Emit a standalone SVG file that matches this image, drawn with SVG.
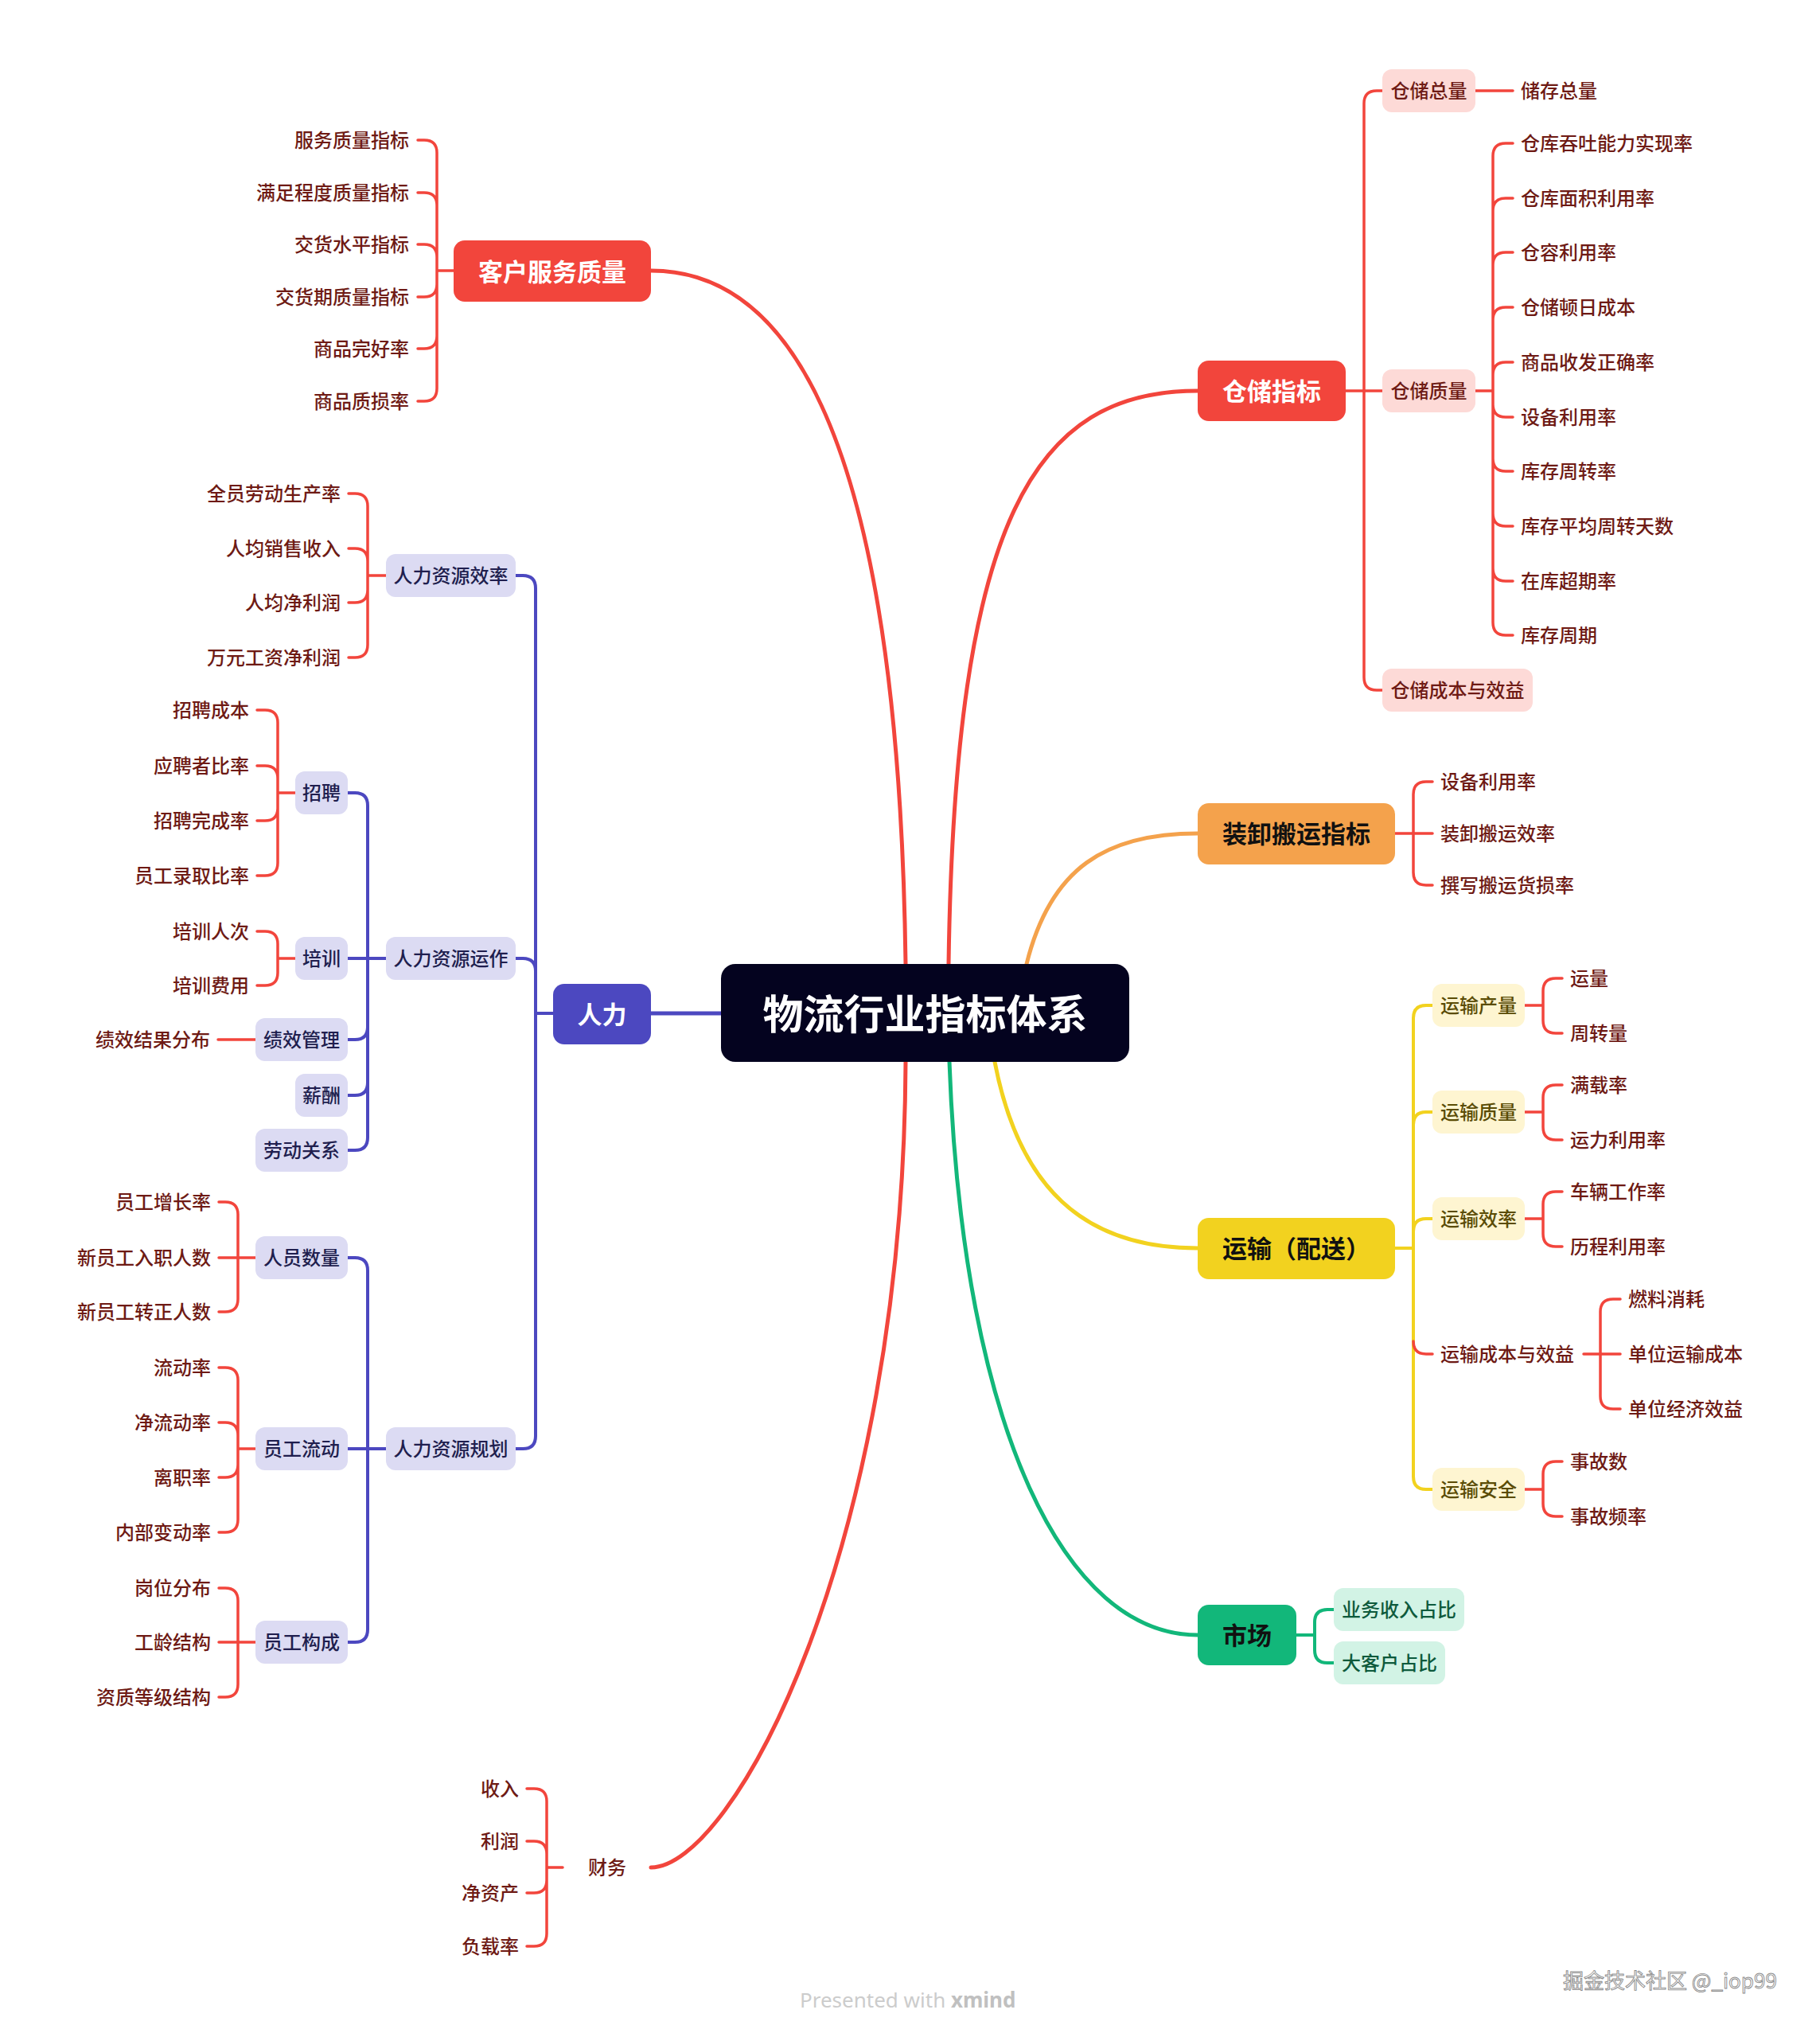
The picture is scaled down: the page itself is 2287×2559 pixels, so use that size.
<svg xmlns="http://www.w3.org/2000/svg" width="2287" height="2559" viewBox="0 0 2287 2559">
<style>
text{font-family:"Noto Sans CJK SC","Noto Sans",sans-serif;dominant-baseline:central}
.c{fill:none;stroke-linecap:round;stroke-linejoin:round}
.r{stroke:#F2453C;stroke-width:3.5}
.ry{stroke:#F2D21F;stroke-width:4}
.rg{stroke:#12B77A;stroke-width:4}
.rp{stroke:#4C48C0;stroke-width:4}
.main{stroke-width:5}
.lf{font-size:24px;fill:#6E1A14;font-weight:500}
.e{text-anchor:end}
.m{text-anchor:middle}
.n2{font-size:31px;font-weight:bold;text-anchor:middle}
.n3{font-size:24px;text-anchor:middle;font-weight:500}
.pk{fill:#FDDAD7}
.yl{fill:#FEF5D1}
.gl{fill:#D2F3E5}
.lv{fill:#DCDBF3}
.tpk{fill:#6E1A14}
.tyl{fill:#5A4C05}
.tgl{fill:#0E5A3C}
.tlv{fill:#201E4E}
</style>
<rect width="2287" height="2559" fill="#ffffff"/>
<g id="connectors">
<path class="c r main" d="M1138 1211 C1130 620 1020 340 818 340"/>
<path class="c r main" d="M1192 1211 C1200 650 1300 491 1505 491"/>
<path class="c main" stroke="#F4A24C" d="M1290 1211 C1320 1090 1390 1047 1505 1047"/>
<path class="c ry main" d="M1250 1334 C1280 1490 1360 1568 1505 1568"/>
<path class="c rg main" d="M1193 1334 C1210 1800 1340 2054 1505 2054"/>
<path class="c r main" d="M1138 1334 C1135 1950 920 2346 818 2346"/>
<path class="c rp main" d="M818 1273 H906"/>
<path class="c r" d="M570 340 H549 M549 340 V192 Q549 176 533 176 H525 M549 340 V258 Q549 242 533 242 H525 M549 340 V323 Q549 307 533 307 H525 M549 340 V357 Q549 373 533 373 H525 M549 340 V422 Q549 438 533 438 H525 M549 340 V488 Q549 504 533 504 H525"/>
<path class="c r" d="M1691 491 H1714 M1714 491 V130 Q1714 114 1730 114 H1737 M1714 491 H1737 M1714 491 V851 Q1714 867 1730 867 H1737 M1854 114 H1901"/>
<path class="c r" d="M1854 491 H1876 M1876 491 V196 Q1876 180 1892 180 H1901 M1876 491 V265 Q1876 249 1892 249 H1901 M1876 491 V333 Q1876 317 1892 317 H1901 M1876 491 V402 Q1876 386 1892 386 H1901 M1876 491 V471 Q1876 455 1892 455 H1901 M1876 491 V508 Q1876 524 1892 524 H1901 M1876 491 V576 Q1876 592 1892 592 H1901 M1876 491 V645 Q1876 661 1892 661 H1901 M1876 491 V714 Q1876 730 1892 730 H1901 M1876 491 V782 Q1876 798 1892 798 H1901"/>
<path class="c r" d="M1753 1047 H1776 M1776 1047 V998 Q1776 982 1792 982 H1800 M1776 1047 H1800 M1776 1047 V1096 Q1776 1112 1792 1112 H1800"/>
<path class="c ry" d="M1753 1568 H1776 M1776 1568 V1279 Q1776 1263 1792 1263 H1800 M1776 1568 V1413 Q1776 1397 1792 1397 H1800 M1776 1568 V1547 Q1776 1531 1792 1531 H1800 M1776 1568 V1855 Q1776 1871 1792 1871 H1800"/>
<path class="c r" d="M1776 1685 Q1776 1701 1792 1701 H1800"/>
<path class="c r" d="M1916 1263 H1939 M1939 1263 V1245 Q1939 1229 1955 1229 H1963 M1939 1263 V1282 Q1939 1298 1955 1298 H1963"/>
<path class="c r" d="M1916 1397 H1939 M1939 1397 V1379 Q1939 1363 1955 1363 H1963 M1939 1397 V1416 Q1939 1432 1955 1432 H1963"/>
<path class="c r" d="M1916 1531 H1939 M1939 1531 V1513 Q1939 1497 1955 1497 H1963 M1939 1531 V1550 Q1939 1566 1955 1566 H1963"/>
<path class="c r" d="M1916 1871 H1939 M1939 1871 V1852 Q1939 1836 1955 1836 H1963 M1939 1871 V1889 Q1939 1905 1955 1905 H1963"/>
<path class="c r" d="M1990 1701 H2011 M2011 1701 V1648 Q2011 1632 2027 1632 H2036 M2011 1701 H2036 M2011 1701 V1754 Q2011 1770 2027 1770 H2036"/>
<path class="c rg" d="M1629 2054 H1652 M1652 2054 V2038 Q1652 2022 1668 2022 H1676 M1652 2054 V2073 Q1652 2089 1668 2089 H1676"/>
<path class="c rp" d="M695 1273 H673 M673 1273 V739 Q673 723 657 723 H648 M673 1273 V1220 Q673 1204 657 1204 H648 M673 1273 V1804 Q673 1820 657 1820 H648"/>
<path class="c rp" d="M485 1204 H462 M462 1204 V1012 Q462 996 446 996 H437 M462 1204 H437 M462 1204 V1290 Q462 1306 446 1306 H437 M462 1204 V1360 Q462 1376 446 1376 H437 M462 1204 V1429 Q462 1445 446 1445 H437"/>
<path class="c rp" d="M485 1820 H462 M462 1820 V1596 Q462 1580 446 1580 H437 M462 1820 H437 M462 1820 V2047 Q462 2063 446 2063 H437"/>
<path class="c r" d="M485 723 H462 M462 723 V636 Q462 620 446 620 H438 M462 723 V705 Q462 689 446 689 H438 M462 723 V741 Q462 757 446 757 H438 M462 723 V810 Q462 826 446 826 H438"/>
<path class="c r" d="M371 996 H349 M349 996 V908 Q349 892 333 892 H323 M349 996 V978 Q349 962 333 962 H323 M349 996 V1015 Q349 1031 333 1031 H323 M349 996 V1084 Q349 1100 333 1100 H323"/>
<path class="c r" d="M371 1204 H349 M349 1204 V1186 Q349 1170 333 1170 H323 M349 1204 V1222 Q349 1238 333 1238 H323"/>
<path class="c r" d="M321 1306 H274"/>
<path class="c r" d="M321 1580 H299 M299 1580 V1526 Q299 1510 283 1510 H275 M299 1580 H275 M299 1580 V1632 Q299 1648 283 1648 H275"/>
<path class="c r" d="M321 1820 H299 M299 1820 V1734 Q299 1718 283 1718 H275 M299 1820 V1803 Q299 1787 283 1787 H275 M299 1820 V1840 Q299 1856 283 1856 H275 M299 1820 V1909 Q299 1925 283 1925 H275"/>
<path class="c r" d="M321 2063 H299 M299 2063 V2011 Q299 1995 283 1995 H275 M299 2063 H275 M299 2063 V2116 Q299 2132 283 2132 H275"/>
<path class="c r" d="M707 2346 H687 M687 2346 V2263 Q687 2247 671 2247 H662 M687 2346 V2329 Q687 2313 671 2313 H662 M687 2346 V2362 Q687 2378 671 2378 H662 M687 2346 V2429 Q687 2445 671 2445 H662"/>
</g>

<g id="central">
<rect x="906" y="1211" width="513" height="123" rx="18" fill="#04031F"/>
<text x="1162.5" y="1271" class="m" font-size="51" font-weight="bold" fill="#ffffff">物流行业指标体系</text>
</g>

<g id="kehu">
<rect x="570" y="302" width="248" height="77" rx="14" fill="#F2453C"/>
<text x="694" y="339" class="n2" fill="#ffffff">客户服务质量</text>
</g>
<g id="kehu-leaves">
<text x="514" y="174" class="lf e">服务质量指标</text>
<text x="514" y="240" class="lf e">满足程度质量指标</text>
<text x="514" y="305" class="lf e">交货水平指标</text>
<text x="514" y="371" class="lf e">交货期质量指标</text>
<text x="514" y="436" class="lf e">商品完好率</text>
<text x="514" y="502" class="lf e">商品质损率</text>
</g>

<g id="cangchu">
<rect x="1505" y="453" width="186" height="76" rx="14" fill="#F2453C"/>
<text x="1598" y="489" class="n2" fill="#ffffff">仓储指标</text>
</g>
<g id="cc-zongliang">
<rect x="1737" y="87" width="117" height="54" rx="12" class="pk"/>
<text x="1795.5" y="112" class="n3 tpk">仓储总量</text>
<text x="1911" y="112" class="lf">储存总量</text>
</g>
<g id="cc-zhiliang">
<rect x="1737" y="464" width="117" height="54" rx="12" class="pk"/>
<text x="1795.5" y="489" class="n3 tpk">仓储质量</text>
<text x="1911" y="178" class="lf">仓库吞吐能力实现率</text>
<text x="1911" y="247" class="lf">仓库面积利用率</text>
<text x="1911" y="315" class="lf">仓容利用率</text>
<text x="1911" y="384" class="lf">仓储顿日成本</text>
<text x="1911" y="453" class="lf">商品收发正确率</text>
<text x="1911" y="522" class="lf">设备利用率</text>
<text x="1911" y="590" class="lf">库存周转率</text>
<text x="1911" y="659" class="lf">库存平均周转天数</text>
<text x="1911" y="728" class="lf">在库超期率</text>
<text x="1911" y="796" class="lf">库存周期</text>
</g>
<g id="cc-chengben">
<rect x="1737" y="840" width="189" height="54" rx="12" class="pk"/>
<text x="1831.5" y="865" class="n3 tpk">仓储成本与效益</text>
</g>

<g id="zhuangxie">
<rect x="1505" y="1009" width="248" height="77" rx="14" fill="#F4A24C"/>
<text x="1629" y="1045" class="n2" fill="#111111">装卸搬运指标</text>
<text x="1810" y="980" class="lf">设备利用率</text>
<text x="1810" y="1045" class="lf">装卸搬运效率</text>
<text x="1810" y="1110" class="lf">撰写搬运货损率</text>
</g>

<g id="yunshu">
<rect x="1505" y="1530" width="248" height="77" rx="14" fill="#F2D21F"/>
<text x="1629" y="1566" class="n2" fill="#111111">运输（配送）</text>
</g>
<g id="ys-chanliang">
<rect x="1800" y="1236" width="116" height="54" rx="12" class="yl"/>
<text x="1858" y="1261" class="n3 tyl">运输产量</text>
<text x="1973" y="1227" class="lf">运量</text>
<text x="1973" y="1296" class="lf">周转量</text>
</g>
<g id="ys-zhiliang">
<rect x="1800" y="1370" width="116" height="54" rx="12" class="yl"/>
<text x="1858" y="1395" class="n3 tyl">运输质量</text>
<text x="1973" y="1361" class="lf">满载率</text>
<text x="1973" y="1430" class="lf">运力利用率</text>
</g>
<g id="ys-xiaolv">
<rect x="1800" y="1504" width="116" height="54" rx="12" class="yl"/>
<text x="1858" y="1529" class="n3 tyl">运输效率</text>
<text x="1973" y="1495" class="lf">车辆工作率</text>
<text x="1973" y="1564" class="lf">历程利用率</text>
</g>
<g id="ys-chengben">
<text x="1810" y="1699" class="lf">运输成本与效益</text>
<text x="2046" y="1630" class="lf">燃料消耗</text>
<text x="2046" y="1699" class="lf">单位运输成本</text>
<text x="2046" y="1768" class="lf">单位经济效益</text>
</g>
<g id="ys-anquan">
<rect x="1800" y="1844" width="116" height="54" rx="12" class="yl"/>
<text x="1858" y="1869" class="n3 tyl">运输安全</text>
<text x="1973" y="1834" class="lf">事故数</text>
<text x="1973" y="1903" class="lf">事故频率</text>
</g>

<g id="shichang">
<rect x="1505" y="2016" width="124" height="76" rx="14" fill="#12B77A"/>
<text x="1567" y="2052" class="n2" fill="#111111">市场</text>
<rect x="1676" y="1995" width="164" height="54" rx="12" class="gl"/>
<text x="1758" y="2020" class="n3 tgl">业务收入占比</text>
<rect x="1676" y="2062" width="140" height="54" rx="12" class="gl"/>
<text x="1746" y="2087" class="n3 tgl">大客户占比</text>
</g>

<g id="renli">
<rect x="695" y="1236" width="123" height="76" rx="14" fill="#4C48C0"/>
<text x="756.5" y="1272" class="n2" fill="#ffffff">人力</text>
</g>
<g id="rl-xiaolv">
<rect x="485" y="696" width="163" height="54" rx="12" class="lv"/>
<text x="566.5" y="721" class="n3 tlv">人力资源效率</text>
<text x="428" y="618" class="lf e">全员劳动生产率</text>
<text x="428" y="687" class="lf e">人均销售收入</text>
<text x="428" y="755" class="lf e">人均净利润</text>
<text x="428" y="824" class="lf e">万元工资净利润</text>
</g>
<g id="rl-yunzuo">
<rect x="485" y="1177" width="163" height="54" rx="12" class="lv"/>
<text x="566.5" y="1202" class="n3 tlv">人力资源运作</text>
</g>
<g id="rl-zhaopin">
<rect x="371" y="969" width="66" height="54" rx="12" class="lv"/>
<text x="404" y="994" class="n3 tlv">招聘</text>
<text x="313" y="890" class="lf e">招聘成本</text>
<text x="313" y="960" class="lf e">应聘者比率</text>
<text x="313" y="1029" class="lf e">招聘完成率</text>
<text x="313" y="1098" class="lf e">员工录取比率</text>
</g>
<g id="rl-peixun">
<rect x="371" y="1177" width="66" height="54" rx="12" class="lv"/>
<text x="404" y="1202" class="n3 tlv">培训</text>
<text x="313" y="1168" class="lf e">培训人次</text>
<text x="313" y="1236" class="lf e">培训费用</text>
</g>
<g id="rl-jixiao">
<rect x="321" y="1279" width="116" height="54" rx="12" class="lv"/>
<text x="379" y="1304" class="n3 tlv">绩效管理</text>
<text x="264" y="1304" class="lf e">绩效结果分布</text>
</g>
<g id="rl-xinchou">
<rect x="371" y="1349" width="66" height="54" rx="12" class="lv"/>
<text x="404" y="1374" class="n3 tlv">薪酬</text>
</g>
<g id="rl-laodong">
<rect x="321" y="1418" width="116" height="54" rx="12" class="lv"/>
<text x="379" y="1443" class="n3 tlv">劳动关系</text>
</g>
<g id="rl-guihua">
<rect x="485" y="1793" width="163" height="54" rx="12" class="lv"/>
<text x="566.5" y="1818" class="n3 tlv">人力资源规划</text>
</g>
<g id="rl-shuliang">
<rect x="321" y="1553" width="116" height="54" rx="12" class="lv"/>
<text x="379" y="1578" class="n3 tlv">人员数量</text>
<text x="265" y="1508" class="lf e">员工增长率</text>
<text x="265" y="1578" class="lf e">新员工入职人数</text>
<text x="265" y="1646" class="lf e">新员工转正人数</text>
</g>
<g id="rl-liudong">
<rect x="321" y="1793" width="116" height="54" rx="12" class="lv"/>
<text x="379" y="1818" class="n3 tlv">员工流动</text>
<text x="265" y="1716" class="lf e">流动率</text>
<text x="265" y="1785" class="lf e">净流动率</text>
<text x="265" y="1854" class="lf e">离职率</text>
<text x="265" y="1923" class="lf e">内部变动率</text>
</g>
<g id="rl-goucheng">
<rect x="321" y="2036" width="116" height="54" rx="12" class="lv"/>
<text x="379" y="2061" class="n3 tlv">员工构成</text>
<text x="265" y="1993" class="lf e">岗位分布</text>
<text x="265" y="2061" class="lf e">工龄结构</text>
<text x="265" y="2130" class="lf e">资质等级结构</text>
</g>

<g id="caiwu">
<text x="763" y="2344" class="lf m">财务</text>
<text x="652" y="2245" class="lf e">收入</text>
<text x="652" y="2311" class="lf e">利润</text>
<text x="652" y="2376" class="lf e">净资产</text>
<text x="652" y="2443" class="lf e">负载率</text>
</g>

<g id="watermarks">
<text x="1005" y="2512" font-size="26" fill="#CCCCCC" style="font-family:'Noto Sans',sans-serif">Presented with <tspan font-weight="bold" fill="#C0C0C0">xmind</tspan></text>
<text x="1964" y="2486" font-size="26" fill="#FAFAFA" stroke="#8C8C8C" stroke-width="0.9">掘金技术社区 @_iop99</text>
</g>
</svg>
